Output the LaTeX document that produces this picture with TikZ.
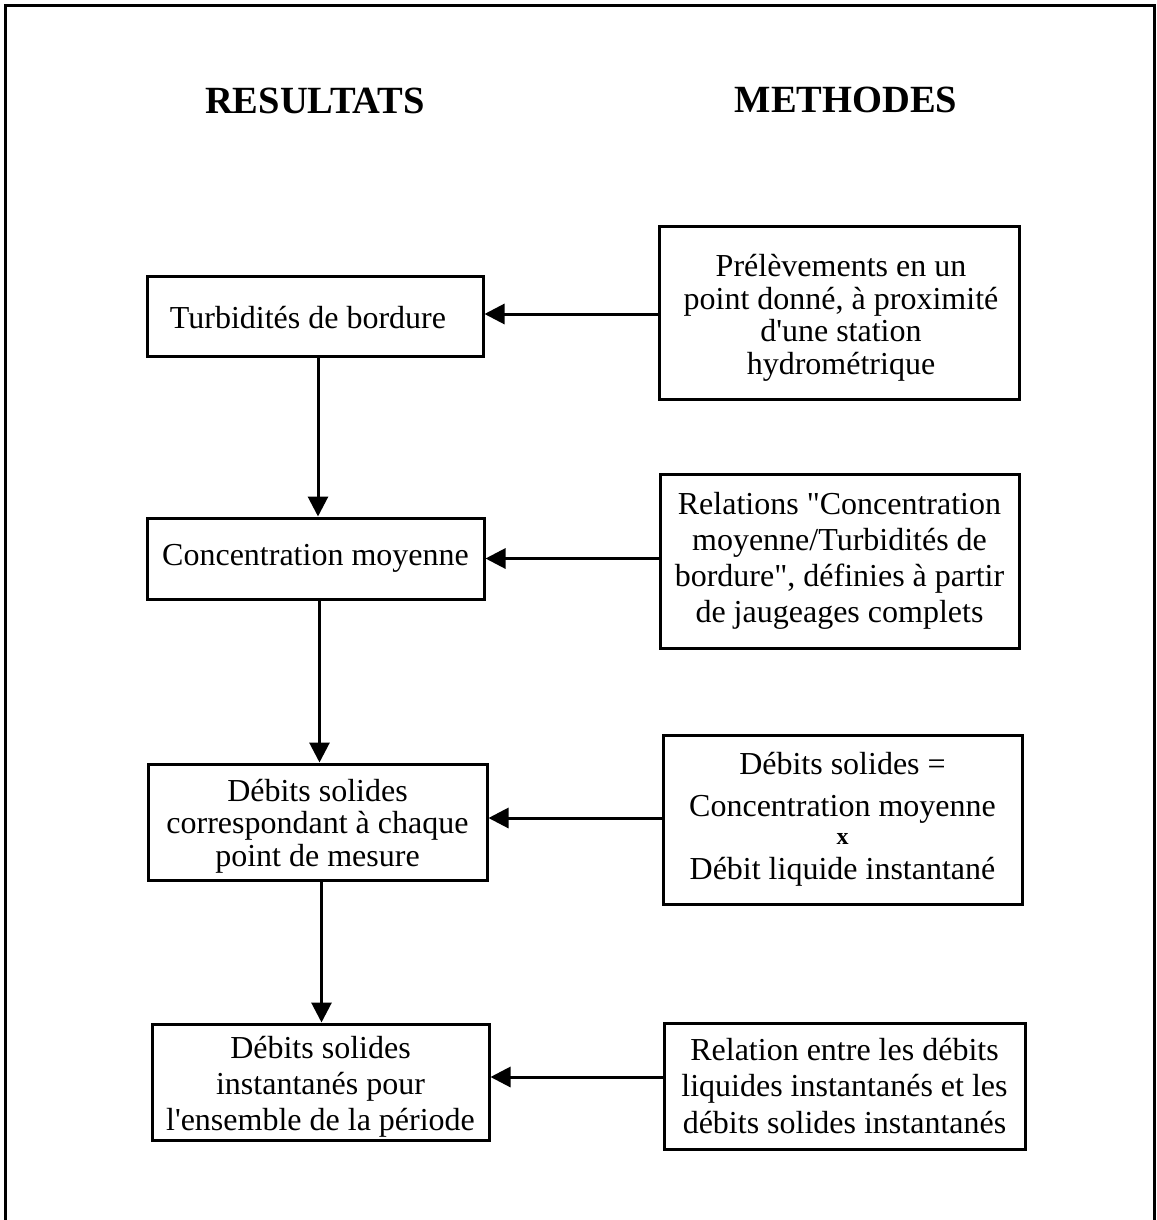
\documentclass[tikz,border=0pt]{standalone}
\usepackage{fontspec}
\setmainfont{Liberation Serif}[Ligatures=TeXOff]
\usetikzlibrary{arrows.meta}
\begin{document}
\begin{tikzpicture}[x=1pt,y=-1pt,
  box/.style={draw,line width=3pt,inner sep=0pt,align=center,font=\fontsize{32}{34}\selectfont},
  boxtext/.style={inner sep=0pt,align=center,font=\fontsize{32}{34}\selectfont},
  head/.style={font=\fontsize{38.5}{42}\selectfont\bfseries},
  arr/.style={line width=3pt,-{Triangle[length=20pt,width=20pt]}},
  frame/.style={line width=3pt}]
\useasboundingbox (0,0) rectangle (1156,1220);
\draw[frame] (5,1220) -- (5,6) -- (1154,6) -- (1154,1220);
\node[head] (hr) at (315,101) {RESULTATS};
\node[head] (hm) at (846,100) {METHODES};
\node[box,minimum width=336pt,minimum height=80pt] (b1l) at (315,316) {};
\node[boxtext] (t1l) at (308,318) {Turbidités de bordure};
\node[box,minimum width=360pt,minimum height=173pt] (b1r) at (839,312.5) {};
\node[boxtext,font=\fontsize{32}{32.5}\selectfont] (t1r) at (841,318)
  {Prélèvements en un\\point donné, à proximité\\d'une station\\hydrométrique};
\node[box,minimum width=337pt,minimum height=81pt] (b2l) at (315.5,558.5) {Concentration moyenne};
\node[box,minimum width=359pt,minimum height=174pt,font=\fontsize{32}{36}\selectfont] (b2r) at (839.5,561)
  {Relations "Concentration\\moyenne/Turbidités de\\bordure", définies à partir\\de jaugeages complets};
\node[box,minimum width=339pt,minimum height=116pt] (b3l) at (317.5,822) {};
\node[boxtext,font=\fontsize{32}{32.5}\selectfont] (t3l) at (317.5,826)
  {Débits solides\\correspondant à chaque\\point de mesure};
\node[box,minimum width=359pt,minimum height=169pt] (b3r) at (842.5,819.5)
  {Débits solides =\\[8pt]Concentration moyenne\\[-6pt]{\fontsize{24}{26}\selectfont\bfseries x}\\[1pt]Débit liquide instantané};
\node[box,minimum width=337pt,minimum height=116pt] (b4l) at (320.5,1082) {};
\node[boxtext,font=\fontsize{32}{36}\selectfont] (t4l) at (320.5,1087)
  {Débits solides\\instantanés pour\\l'ensemble de la période};
\node[box,minimum width=361pt,minimum height=126pt,font=\fontsize{32}{36.5}\selectfont] (b4r) at (844.5,1086)
  {Relation entre les débits\\liquides instantanés et les\\débits solides instantanés};
\draw[arr] ([yshift=2pt]b1r.west |- b1l.east) -- ([yshift=2pt]b1l.east);
\draw[arr] (b2r.west |- b2l.east) -- (b2l.east);
\draw[arr] ([yshift=4pt]b3r.west |- b3l.east) -- ([yshift=4pt]b3l.east);
\draw[arr] ([yshift=5pt]b4r.west |- b4l.east) -- ([yshift=5pt]b4l.east);
\draw[arr] ([xshift=3pt]b1l.south) -- ([xshift=3pt]b1l.south |- b2l.north);
\draw[arr] ([xshift=4pt]b2l.south) -- ([xshift=4pt]b2l.south |- b3l.north);
\draw[arr] ([xshift=4pt]b3l.south) -- ([xshift=4pt]b3l.south |- b4l.north);
\end{tikzpicture}
\end{document}
